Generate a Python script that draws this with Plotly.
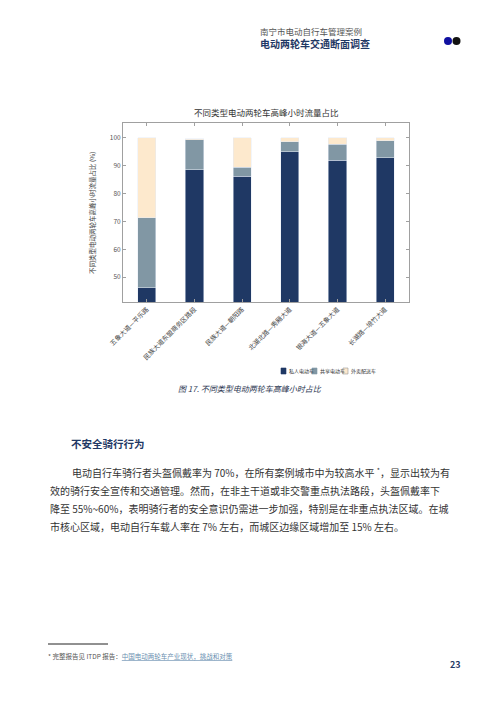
import plotly.graph_objects as go

# chart data (percent of peak-hour flow)
sites = ["五象大道—平乐路", "民族大道东盟商务区路段", "民族大道—朝阳路",
         "北湖北路—秀厢大道", "银海大道—五象大道", "长湖路—埌竹大道"]
private = [46.3, 88.5, 86.2, 95.0, 91.9, 92.9]
shared = [25.1, 10.8, 3.3, 3.6, 5.7, 6.0]
delivery = [28.6, 0.3, 10.5, 1.4, 2.4, 1.1]
y_ticks = [50, 60, 70, 80, 90, 100]
series_names = ["私人电动车", "共享电动车", "外卖配送车"]
series_colors = ["#1f3864", "#8197a4", "#fde9cd"]

W, H = 500, 707
OFF = 8  # page body margin in the browser
FONT = "Noto Sans CJK SC"
NAVY = "#1f3864"


def px(x):
    return (x - OFF) / W


def py(y):
    return 1 - (y - OFF) / H


fig = go.Figure()
for name, vals, col in zip(series_names, [private, shared, delivery], series_colors):
    fig.add_trace(go.Bar(x=sites, y=vals, name=name, marker_color=col, width=0.38))

axis_common = dict(showline=True, linecolor="#a0a0a0", linewidth=1, mirror="ticks",
                   ticks="inside", ticklen=3, tickcolor="#a0a0a0", showgrid=False,
                   zeroline=False, automargin=False)

fig.update_layout(
    width=W, height=H, barmode="stack",
    margin=dict(l=0, r=0, t=0, b=0, autoexpand=False),
    paper_bgcolor="white", plot_bgcolor="white",
    font=dict(family=FONT, color="#444"),
    showlegend=False,
    xaxis=dict(domain=[px(123), px(409)], range=[-0.5, 5.5], tickangle=-45,
               tickfont=dict(size=6.5, color="#444"), **axis_common),
    yaxis=dict(domain=[py(302), py(123)], range=[41.1, 105.3], tickvals=y_ticks,
               tickfont=dict(size=6.5, color="#555"), **axis_common),
)

ann = []
# chart title and axis title
ann.append(dict(x=px(266), y=py(112), text="不同类型电动两轮车高峰小时流量占比",
                font=dict(size=8.5, color="#333")))
ann.append(dict(x=px(92), y=py(213), text="不同类型电动两轮车高峰小时流量占比 (%)",
                textangle=-90, font=dict(size=6.5, color="#444")))
# legend drawn as squares + labels
legend_x = [281, 312, 343]
for lx, name in zip(legend_x, series_names):
    ann.append(dict(x=px(lx + 6), y=py(371), xanchor="left", text=name,
                    font=dict(size=5, color="#333")))
# caption
ann.append(dict(x=px(250), y=py(388), text="<i>图 17. 不同类型电动两轮车高峰小时占比</i>",
                font=dict(size=8, color="#2a3550")))
# page header
ann.append(dict(x=px(258), y=py(31), xanchor="left", text="南宁市电动自行车管理案例",
                font=dict(size=8.5, color="#555")))
ann.append(dict(x=px(258), y=py(44), xanchor="left", text="<b>电动两轮车交通断面调查</b>",
                font=dict(size=10, color=NAVY)))
# section heading and body text
ann.append(dict(x=px(69), y=py(443), xanchor="left", text="<b>不安全骑行行为</b>",
                font=dict(size=10.5, color=NAVY)))
body = [
    (70, "电动自行车骑行者头盔佩戴率为 70%，在所有案例城市中为较高水平 <sup>*</sup>，显示出较为有"),
    (48, "效的骑行安全宣传和交通管理。然而，在非主干道或非交警重点执法路段，头盔佩戴率下"),
    (48, "降至 55%~60%，表明骑行者的安全意识仍需进一步加强，特别是在非重点执法区域。在城"),
    (48, "市核心区域，电动自行车载人率在 7% 左右，而城区边缘区域增加至 15% 左右。"),
]
for i, (x0, line) in enumerate(body):
    ann.append(dict(x=px(x0), y=py(472 + i * 18.3), xanchor="left", text=line,
                    font=dict(size=10, color="#333")))
# footnote and page number
ann.append(dict(x=px(46), y=py(656), xanchor="left",
                text="* 完整报告见 ITDP 报告：<span style='color:#6a8fb0'><u>中国电动两轮车产业现状，挑战和对策</u></span>",
                font=dict(size=6.5, color="#555")))
ann.append(dict(x=px(455), y=py(664), text="<b>23</b>", font=dict(size=9, color=NAVY)))

for a in ann:
    a.setdefault("xanchor", "center")
    a.update(xref="paper", yref="paper", yanchor="middle", showarrow=False)
fig.update_layout(annotations=ann)

shapes = [
    dict(type="line", x0=px(48), x1=px(108), y0=py(644), y1=py(644),
         line=dict(color="#222", width=1)),
    dict(type="circle", x0=px(444), x1=px(452), y0=py(45), y1=py(37),
         fillcolor="#1010a0", line=dict(width=0)),
    dict(type="circle", x0=px(452.5), x1=px(460.5), y0=py(45), y1=py(37),
         fillcolor="#111", line=dict(width=0)),
]
for lx, col in zip(legend_x, series_colors):
    shapes.append(dict(type="rect", x0=px(lx), x1=px(lx + 5), y0=py(374), y1=py(368),
                       fillcolor=col, line=dict(color="#999" if col == "#fde9cd" else col, width=0.6)))
for s in shapes:
    s.update(xref="paper", yref="paper")
fig.update_layout(shapes=shapes)

fig.write_html("out.html")
